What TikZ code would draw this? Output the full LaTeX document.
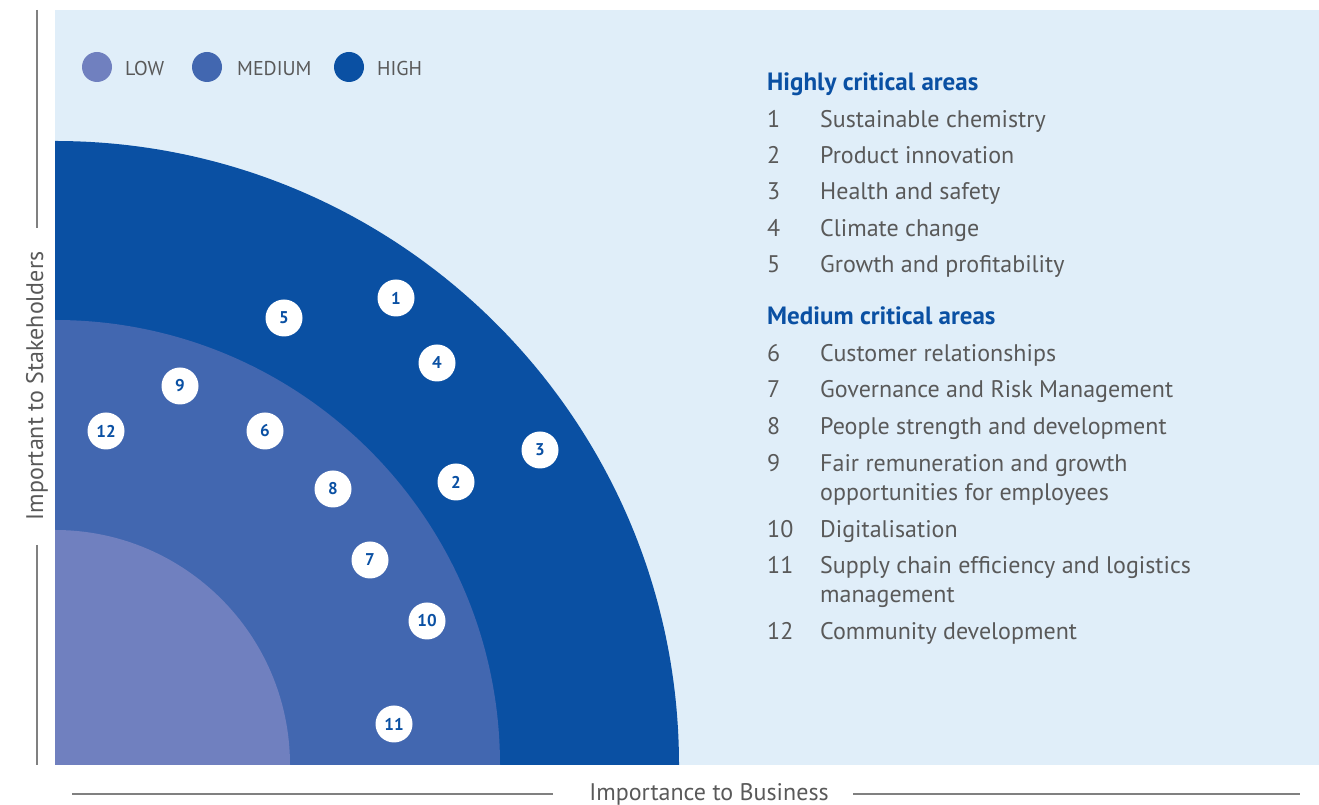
\documentclass[tikz,border=0pt]{standalone}
\usepackage{fontspec}
\setmainfont{PT Sans}
\definecolor{bgblue}{HTML}{E0EEF9}
\definecolor{lowblue}{HTML}{7080BF}
\definecolor{medblue}{HTML}{4267B0}
\definecolor{highblue}{HTML}{0A50A3}
\definecolor{txtgrey}{HTML}{595959}
\definecolor{axgrey}{HTML}{808080}
\begin{document}
\begin{tikzpicture}[x=1pt,y=1pt]
	\tikzset{dot/.style={circle, fill=white, minimum size=37pt, inner sep=0pt,
				font=\fontsize{17}{17}\selectfont\bfseries, text=highblue}}
	\tikzset{legdot/.style={circle, minimum size=30pt, inner sep=0pt}}
	\tikzset{legtext/.style={anchor=base west, inner sep=0pt, text=txtgrey,
				font=\fontsize{20}{20}\selectfont}}
	\tikzset{itemno/.style={anchor=base west, inner sep=0pt, text=txtgrey,
				font=\fontsize{24}{29}\selectfont}}
	\tikzset{itemtext/.style={anchor=base west, inner sep=0pt, text=txtgrey, align=left,
				font=\fontsize{24}{29}\selectfont}}
	\tikzset{heading/.style={anchor=base west, inner sep=0pt, text=highblue,
				font=\fontsize{25}{29}\selectfont\bfseries}}
	\tikzset{axline/.style={draw=axgrey, line width=1.2pt}}
	\tikzset{axtext/.style={inner sep=0pt, text=txtgrey, font=\fontsize{24}{24}\selectfont}}

		\useasboundingbox (0,0) rectangle (1319,805);
		\fill[bgblue] (55,40) rectangle (1319,795);

		\coordinate (o) at (55,40);
		\fill[highblue] (o) -- ++(624,0) arc[start angle=0, end angle=90, radius=624pt] -- cycle;
		\fill[medblue] (o) -- ++(445,0) arc[start angle=0, end angle=90, radius=445pt] -- cycle;
		\fill[lowblue] (o) -- ++(235,0) arc[start angle=0, end angle=90, radius=235pt] -- cycle;

		\node[legdot, fill=lowblue] (l1) at (97,738) {};
		\node[legdot, fill=medblue] (l2) at (207,738) {};
		\node[legdot, fill=highblue] (l3) at (349,738) {};
		\node[legtext] (t1) at (125,729) {LOW};
		\node[legtext] (t2) at (237,729) {MEDIUM};
		\node[legtext] (t3) at (377,729) {HIGH};

		\foreach \n/\x/\y in {1/396/507, 2/456/323, 3/540/355, 4/437/442, 5/284/487,
				6/265/374, 7/370/245, 8/333/316, 9/180/419, 10/427/184, 11/394/81, 12/106/374}
			\node[dot] (d\n) at (\x,\y) {\n};

		\node[heading] (h1) at (767,714) {Highly critical areas};
		\node[heading] (h2) at (767,480) {Medium critical areas};
		% \yb is the baseline of the last line of the item
		\foreach \n/\y/\yb/\s in {1/677/677/Sustainable chemistry, 2/641/641/Product innovation,
				3/605/605/Health and safety, 4/568/568/Climate change,
				5/532/532/Growth and profitability,
				6/443/443/Customer relationships, 7/407/407/Governance and Risk Management,
				8/370/370/People strength and development,
				9/333/304/{Fair remuneration and growth\\opportunities for employees},
				10/267/267/Digitalisation,
				11/231/202/{Supply chain efficiency and logistics\\management},
				12/165/165/Community development}
		{
			\node[itemno] (n\n) at (767,\y) {\n};
			\node[itemtext] (s\n) at (820,\yb) {\s};
		}

		\coordinate (v1) at (37,795);
		\coordinate (v2) at (37,577);
		\coordinate (v3) at (37,260);
		\coordinate (v4) at (37,40);
		\draw[axline] (v1) -- (v2);
		\draw[axline] (v3) -- (v4);
		\node[axtext, rotate=90, anchor=base] (ylab) at (43,419) {Important to Stakeholders};

		\coordinate (h1a) at (72,11);
		\coordinate (h1b) at (553,11);
		\coordinate (h2a) at (853,11);
		\coordinate (h2b) at (1300,11);
		\draw[axline] (h1a) -- (h1b);
		\draw[axline] (h2a) -- (h2b);
		\node[axtext, anchor=base] (xlab) at (709,4) {Importance to Business};
\end{tikzpicture}
\end{document}
